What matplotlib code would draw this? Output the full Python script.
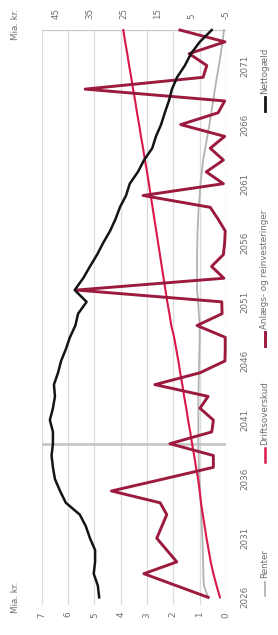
import numpy as np
import matplotlib
matplotlib.use('Agg')
import matplotlib.pyplot as plt
from matplotlib.lines import Line2D

years = list(range(2026, 2075))

renter = [0.68, 0.84, 0.86, 0.87, 0.88, 0.90, 0.92, 0.94, 0.96, 0.99,
          1.01, 1.03, 1.04, 1.05, 1.05, 1.05, 1.05, 1.05, 1.04, 1.03,
          1.02, 1.01, 1.00, 1.00, 1.03, 1.06, 1.10, 1.10, 1.10, 1.10,
          1.09, 1.08, 1.06, 1.04, 1.00, 0.97, 0.92, 0.87, 0.79, 0.71,
          0.63, 0.56, 0.49, 0.42, 0.35, 0.27, 0.20, 0.13, 0.08]

drift = [0.23, 0.36, 0.48, 0.58, 0.66, 0.74, 0.81, 0.88, 0.95, 1.00,
         1.06, 1.14, 1.21, 1.29, 1.36, 1.44, 1.51, 1.59, 1.66, 1.74,
         1.81, 1.89, 1.97, 2.08, 2.15, 2.23, 2.30, 2.37, 2.44, 2.51,
         2.58, 2.65, 2.72, 2.79, 2.86, 2.93, 3.00, 3.08, 3.15, 3.23,
         3.30, 3.38, 3.45, 3.53, 3.60, 3.68, 3.75, 3.83, 3.90]

anlaeg = [0.68, 1.90, 3.12, 1.87, 2.25, 2.63, 2.44, 2.25, 2.50, 4.35,
          2.40, 0.48, 0.48, 2.13, 0.54, 0.48, 0.99, 0.68, 2.70, 0.99,
          0.04, 0.03, 0.03, 1.10, 0.15, 0.16, 5.68, 0.08, 0.55, 0.10,
          0.05, 0.03, 0.30, 0.60, 3.15, 0.10, 0.75, 0.10, 0.60, 0.05,
          1.72, 0.30, 0.05, 5.35, 0.87, 0.73, 1.40, 0.04, 1.75]

# nettogaeld on the right axis (-5 .. 45)
netto = [32.3, 32.7, 33.9, 33.5, 33.5, 35.0, 36.2, 38.0, 42.1, 43.8,
         45.3, 45.9, 46.3, 45.9, 45.9, 46.8, 45.9, 45.3, 45.6, 44.4,
         43.5, 42.1, 40.9, 39.3, 38.5, 36.0, 39.5, 37.0, 35.0, 32.9,
         31.1, 29.1, 27.5, 26.2, 24.4, 23.3, 20.9, 19.1, 16.7, 15.6,
         14.1, 13.0, 11.8, 10.9, 9.4, 7.1, 5.3, 2.7, -0.8]

left_ticks = [0, 1, 2, 3, 4, 5, 6, 7]
right_ticks = [-5, 5, 15, 25, 35, 45]
year_ticks = [2026, 2031, 2036, 2041, 2046, 2051, 2056, 2061, 2066, 2071]

c_renter = '#b3b3b3'
c_drift = '#d8174a'
c_anlaeg = '#9c1a3e'
c_netto = '#141414'
c_txt = '#6e6e6e'
fs = 6.3

fig = plt.figure(figsize=(2.78, 6.35), dpi=100)
ax = fig.add_axes([0.150, 0.0472, 0.663, 0.9055])
ax2 = ax.twiny()

ax.set_xlim(7, 0)
ax2.set_xlim(49.2, -5)
ax.set_ylim(2025.35, 2074)

ax.set_xticks(left_ticks)
ax.set_xticklabels([str(t) for t in left_ticks], rotation=90, fontsize=fs, color=c_txt)
ax2.set_xticks(right_ticks)
ax2.set_xticklabels([str(t) for t in right_ticks], rotation=90, fontsize=fs, color=c_txt)
ax.yaxis.tick_right()
ax.set_yticks(year_ticks)
ax.set_yticklabels([str(y) for y in year_ticks], rotation=90, fontsize=fs,
                   color=c_txt, va='center')
ax.tick_params(axis='x', length=0, pad=5)
ax2.tick_params(axis='x', length=0, pad=8)
ax.tick_params(axis='y', length=0, pad=10)

ax.grid(axis='x', color='#dcdcdc', lw=0.9)
ax.set_axisbelow(True)
for a in (ax, ax2):
    for s in a.spines.values():
        s.set_visible(False)
ax.axhline(2074, color='#c8c8c8', lw=1.6, zorder=1)
ax.axhline(2039, color='#c8c8c8', lw=2.0, zorder=1)

ax.plot(renter, years, color=c_renter, lw=1.3, zorder=3, clip_on=False)
ax.plot(drift, years, color=c_drift, lw=1.5, zorder=4, clip_on=False)
ax.plot(anlaeg, years, color=c_anlaeg, lw=2.1, zorder=5, clip_on=False)
ax2.plot(netto, years, color=c_netto, lw=1.8, zorder=6, clip_on=False)

fig.text(0.054, 0.06, 'Mia. kr.', rotation=90, fontsize=fs, color=c_txt,
         ha='center', va='center')
fig.text(0.054, 0.961, 'Mia. kr.', rotation=90, fontsize=fs, color=c_txt,
         ha='center', va='center')

# legend, drawn rotated along the right edge
legend = [('Renter', c_renter, 1.3, 0.062),
          ('Driftsoverskud', c_drift, 1.8, 0.272),
          ('Anlægs- og reinvesteringer', c_anlaeg, 2.1, 0.455),
          ('Nettogæld', c_netto, 2.0, 0.825)]
lx = 0.953
for name, col, lw, y0 in legend:
    fig.add_artist(Line2D([lx, lx], [y0, y0 + 0.022], color=col, lw=lw,
                          transform=fig.transFigure))
    fig.text(lx, y0 + 0.027, name, rotation=90, fontsize=fs, color=c_txt,
             ha='center', va='bottom')

plt.savefig('out.png', dpi=100)
